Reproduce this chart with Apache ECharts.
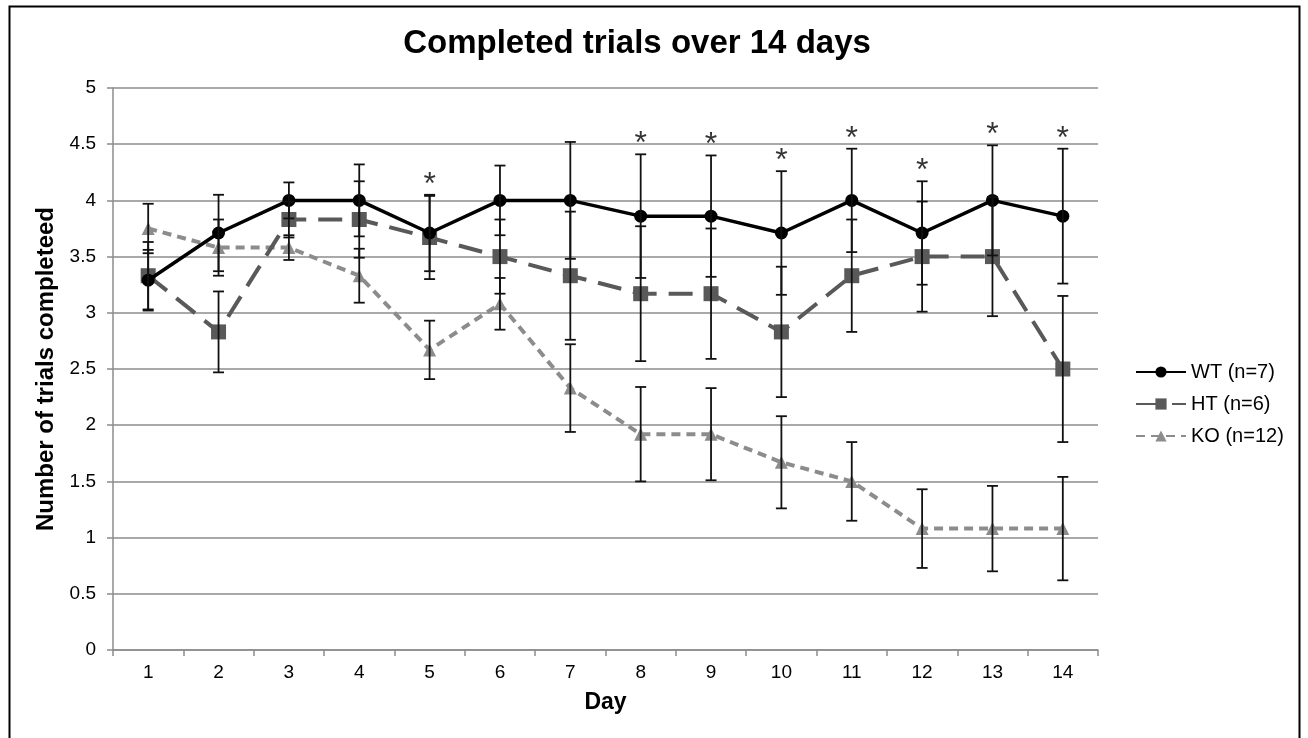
<!DOCTYPE html>
<html>
<head>
<meta charset="utf-8">
<script src="https://cdn.jsdelivr.net/npm/echarts@6/dist/echarts.min.js"></script>
<style>html,body{margin:0;padding:0;background:#fff;}#chart{width:1308px;height:738px;}</style>
</head>
<body>
<div id="chart"></div>
<script>
const days = ['1','2','3','4','5','6','7','8','9','10','11','12','13','14'];
const wtMean = [3.29,3.71,4,4,3.71,4,4,3.86,3.86,3.71,4,3.71,4,3.86];
const wtErr  = [0.27,0.34,0.16,0.32,0.34,0.31,0.52,0.55,0.54,0.55,0.46,0.46,0.49,0.6];
const htMean = [3.33,2.83,3.83,3.83,3.67,3.5,3.33,3.17,3.17,2.83,3.33,3.5,3.5,2.5];
const htErr  = [0.3,0.36,0.16,0.34,0.37,0.33,0.57,0.6,0.58,0.58,0.5,0.49,0.53,0.65];
const koMean = [3.75,3.58,3.58,3.33,2.67,3.08,2.33,1.92,1.92,1.67,1.5,1.08,1.08,1.08];
const koErr  = [0.22,0.25,0.11,0.24,0.26,0.23,0.39,0.42,0.41,0.41,0.35,0.35,0.38,0.46];
const sigDays = ['5','8','9','10','11','12','13','14'];
const seriesNames = ['WT (n=7)','HT (n=6)','KO (n=12)'];
const yTicks = [0,0.5,1,1.5,2,2.5,3,3.5,4,4.5,5];

const FONT = '"Liberation Sans", Arial, sans-serif';
const chart = echarts.init(document.getElementById('chart'));

function errData(mean, err){
  return mean.map((m,i)=>[i, m-err[i], m+err[i]]);
}
function errSeries(name, mean, err){
  return {
    type:'custom', name: name + ' err', z: 5, silent:true,
    data: errData(mean, err),
    renderItem: function(params, api){
      const x = api.value(0);
      const lo = api.coord([x, api.value(1)]);
      const hi = api.coord([x, api.value(2)]);
      const hw = 5.5;
      const st = {stroke:'#111', lineWidth:1.8};
      return {type:'group', children:[
        {type:'line', shape:{x1:lo[0],y1:lo[1],x2:hi[0],y2:hi[1]}, style:st},
        {type:'line', shape:{x1:lo[0]-hw,y1:lo[1],x2:lo[0]+hw,y2:lo[1]}, style:st},
        {type:'line', shape:{x1:hi[0]-hw,y1:hi[1],x2:hi[0]+hw,y2:hi[1]}, style:st}
      ]};
    }
  };
}

const sigData = sigDays.map(d=>{ const i = days.indexOf(d); return [i, wtMean[i]+wtErr[i]]; });

chart.setOption({
  animation:false,
  backgroundColor:'#fff',
  title:{text:'Completed trials over 14 days', left:632, textAlign:'center', top:22,
    textStyle:{fontFamily:FONT, fontSize:33, fontWeight:'bold', color:'#000'}},
  graphic:[{type:'rect', shape:{x:9.5,y:6.5,width:1290,height:760}, style:{fill:'none', stroke:'#000', lineWidth:2}, silent:true}],
  legend:{
    orient:'vertical', left:1130, top:357, itemGap:12, itemWidth:50, itemHeight:14,
    data: seriesNames,
    textStyle:{fontFamily:FONT, fontSize:20, color:'#000'}
  },
  grid:{left:113, right:210, top:88, bottom:88, containLabel:false},
  xAxis:{
    type:'category', data:days, boundaryGap:true,
    name:'Day', nameLocation:'middle', nameGap:41,
    nameTextStyle:{fontFamily:FONT, fontSize:23, fontWeight:'bold', color:'#000'},
    axisLine:{lineStyle:{color:'#8c8c8c', width:1.5}},
    axisTick:{show:true, length:6, alignWithLabel:false, lineStyle:{color:'#8c8c8c', width:1.5}},
    axisLabel:{fontFamily:FONT, fontSize:19, color:'#000', margin:13},
    splitLine:{show:false}
  },
  yAxis:{
    type:'value', min:0, max:5, interval:0.5,
    name:'Number of trials completeed', nameLocation:'middle', nameGap:53, nameRotate:90,
    nameTextStyle:{fontFamily:FONT, fontSize:24, fontWeight:'bold', color:'#000'},
    axisLine:{show:true, lineStyle:{color:'#8c8c8c', width:1.5}},
    axisTick:{show:true, length:6, lineStyle:{color:'#8c8c8c', width:1.5}},
    axisLabel:{fontFamily:FONT, fontSize:19, color:'#000', margin:17,
      formatter:function(v){ return yTicks.indexOf(v)>=0 ? String(v) : ''; }},
    splitLine:{show:true, lineStyle:{color:'#8c8c8c', width:1.5}}
  },
  series:[
    {name:seriesNames[2], type:'line', data:koMean, z:2,
      symbol:'triangle', symbolSize:13,
      lineStyle:{color:'#8c8c8c', width:4, type:[9,6]},
      itemStyle:{color:'#8c8c8c'}},
    {name:seriesNames[1], type:'line', data:htMean, z:3,
      symbol:'rect', symbolSize:15,
      lineStyle:{color:'#595959', width:4, type:[24,12]},
      itemStyle:{color:'#595959'}},
    {name:seriesNames[0], type:'line', data:wtMean, z:4,
      symbol:'circle', symbolSize:13,
      lineStyle:{color:'#000', width:3.5},
      itemStyle:{color:'#000'}},
    errSeries('KO', koMean, koErr),
    errSeries('HT', htMean, htErr),
    errSeries('WT', wtMean, wtErr),
    {name:'sig', type:'scatter', data:sigData, symbolSize:0, silent:true, z:6,
      label:{show:true, formatter:'*', position:'top', distance:-6,
        fontFamily:FONT, fontSize:32, color:'#000'}}
  ]
});
</script>
</body>
</html>
